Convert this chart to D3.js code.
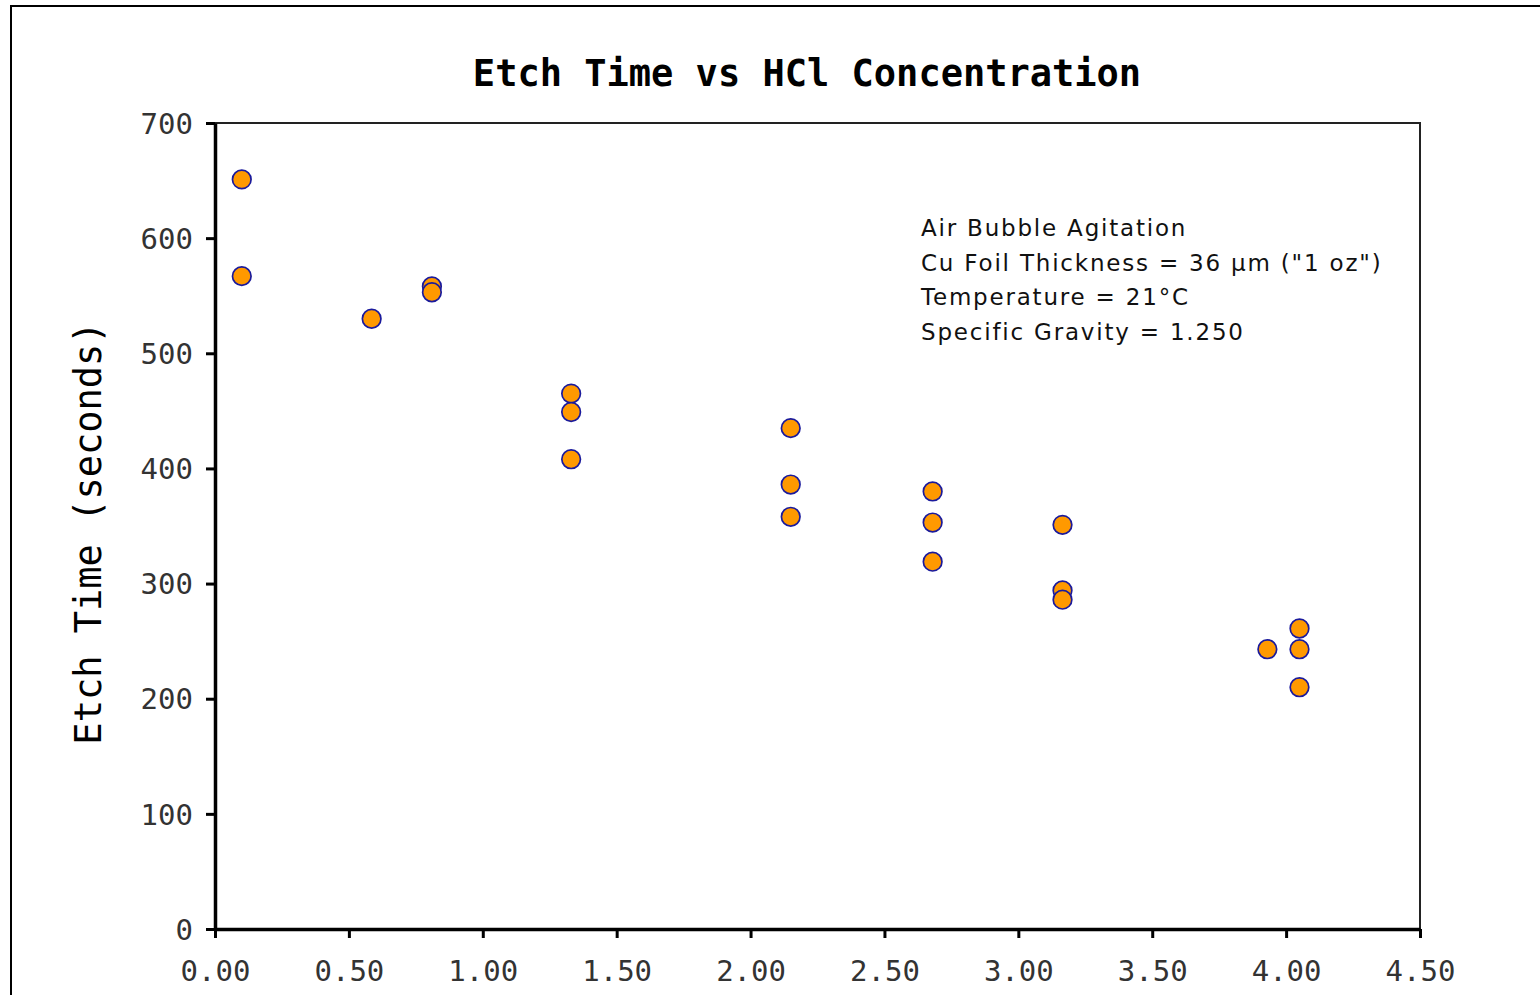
<!DOCTYPE html>
<html lang="en">
<head>
    <meta charset="utf-8">
    <title>Etch Time vs HCl Concentration</title>
    <script src="https://cdn.jsdelivr.net/npm/d3@7"></script>
    <style>
        body { margin: 0; background: #fff; }
        svg { display: block; }
    </style>
</head>
<body>
<script>
    // HCl concentration (x) and etch time in seconds (y)
    var concentration = [0.10, 0.10, 0.585, 0.81, 0.81, 1.33, 1.33, 1.33, 2.15, 2.15, 2.15,
                         2.68, 2.68, 2.68, 3.165, 3.165, 3.165, 3.93, 4.05, 4.05, 4.05];
    var etchTime = [651, 567, 530, 558, 553, 465, 449, 408, 435, 386, 358,
                    380, 353, 319, 351, 294, 286, 243, 261, 243, 210];
    var xTicks = [0, 0.5, 1, 1.5, 2, 2.5, 3, 3.5, 4, 4.5];
    var yTicks = [0, 100, 200, 300, 400, 500, 600, 700];
    var notes = ["Air Bubble Agitation",
                 "Cu Foil Thickness = 36 \u00b5m (\"1 oz\")",
                 "Temperature = 21\u00b0C",
                 "Specific Gravity = 1.250"];

    var w = 1540, h = 995;
    var plotL = 215, plotR = 1420, plotT = 123, plotB = 929;

    var svg = d3.select("body").append("svg")
        .attr("width", w)
        .attr("height", h);

    // outer frame, runs off the right and bottom of the page
    svg.append("rect")
        .attr("x", 11).attr("y", 6)
        .attr("width", 1540).attr("height", 1000)
        .attr("fill", "none")
        .attr("stroke", "#000")
        .attr("stroke-width", 2);

    var x = d3.scaleLinear().domain([0, 4.5]).range([plotL, plotR]);
    var y = d3.scaleLinear().domain([0, 700]).range([plotB, plotT]);

    // thin top + right edges of the plot box
    svg.append("path")
        .attr("d", "M" + plotL + "," + plotT + "H" + plotR + "V" + plotB)
        .attr("fill", "none")
        .attr("stroke", "#222")
        .attr("stroke-width", 2);

    var xAxis = svg.append("g")
        .attr("transform", "translate(0," + plotB + ")")
        .call(d3.axisBottom(x).tickValues(xTicks).tickFormat(d3.format(".2f"))
            .tickSizeInner(9).tickSizeOuter(0).tickPadding(22));

    var yAxis = svg.append("g")
        .attr("transform", "translate(" + plotL + ",0)")
        .call(d3.axisLeft(y).tickValues(yTicks).tickFormat(d3.format("d"))
            .tickSizeInner(9).tickSizeOuter(0).tickPadding(13));

    [xAxis, yAxis].forEach(function (g) {
        g.select(".domain").attr("stroke", "#000").attr("stroke-width", 3.5);
        g.selectAll(".tick line").attr("stroke", "#000").attr("stroke-width", 3);
        g.selectAll(".tick text")
            .attr("fill", "#333")
            .attr("font-family", "DejaVu Sans Mono")
            .attr("font-size", "29px");
    });
    yAxis.selectAll(".tick text").attr("dy", "0.35em");

    // points
    svg.append("g").selectAll("circle")
        .data(concentration)
        .enter()
        .append("circle")
        .attr("cx", function (d) { return x(d); })
        .attr("cy", function (d, i) { return y(etchTime[i]); })
        .attr("r", 9.3)
        .attr("fill", "#ff9900")
        .attr("stroke", "#1a1a9c")
        .attr("stroke-width", 1.7);

    svg.append("text")
        .text("Etch Time vs HCl Concentration")
        .attr("x", 807)
        .attr("y", 86)
        .attr("text-anchor", "middle")
        .attr("font-family", "DejaVu Sans Mono")
        .attr("font-weight", "bold")
        .attr("font-size", "37px")
        .attr("fill", "#000");

    svg.append("text")
        .text("Etch Time (seconds)")
        .attr("transform", "translate(101,533) rotate(-90)")
        .attr("text-anchor", "middle")
        .attr("font-family", "DejaVu Sans Mono")
        .attr("font-size", "37px")
        .attr("fill", "#000");

    svg.append("g").selectAll("text")
        .data(notes)
        .enter()
        .append("text")
        .text(function (d) { return d; })
        .attr("x", 921)
        .attr("y", function (d, i) { return 236 + i * 34.6; })
        .attr("font-family", "DejaVu Sans")
        .attr("font-size", "23px")
        .attr("letter-spacing", "1.8px")
        .attr("fill", "#111");
</script>
</body>
</html>
